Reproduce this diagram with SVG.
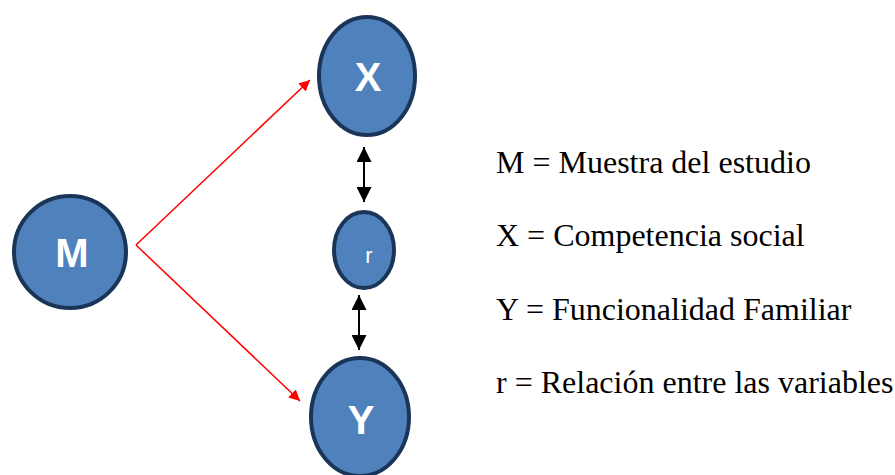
<svg xmlns="http://www.w3.org/2000/svg" width="895" height="475" viewBox="0 0 895 475">
<style>
.node{fill:#4F81BD;stroke:#1B3558;stroke-width:4}
.lbl{font-family:"Liberation Sans",Arial,sans-serif;font-weight:bold;fill:#fff;text-anchor:middle;font-size:40px}
.leg{font-family:"Liberation Serif","Times New Roman",serif;font-size:32px;fill:#000}
.red{stroke:#FF0000;stroke-width:1.5;fill:none}
.blk{stroke:#000;stroke-width:2;fill:none}
</style>
<defs>
<marker id="rh" viewBox="0 0 10 10" refX="10" refY="5" markerWidth="11" markerHeight="11" markerUnits="userSpaceOnUse" orient="auto">
<path d="M0,0L10,5L0,10z" fill="#FF0000"/>
</marker>
<marker id="bh" viewBox="0 0 10 10" refX="10" refY="5" markerWidth="15" markerHeight="15" markerUnits="userSpaceOnUse" orient="auto-start-reverse">
<path d="M0,0L10,5L0,10z" fill="#000"/>
</marker>
</defs>
<rect width="895" height="475" fill="#fff"/>
<g id="connectors">
<line class="red" x1="136" y1="245" x2="310" y2="80" marker-end="url(#rh)"/>
<line class="red" x1="136" y1="245" x2="300" y2="401" marker-end="url(#rh)"/>
<line class="blk" x1="364" y1="147" x2="364" y2="202" marker-start="url(#bh)" marker-end="url(#bh)"/>
<line class="blk" x1="359" y1="295" x2="359" y2="350" marker-start="url(#bh)" marker-end="url(#bh)"/>
</g>
<g id="node-M">
<circle class="node" cx="70" cy="252" r="56"/>
<text class="lbl" x="72" y="267">M</text>
</g>
<g id="node-X">
<ellipse class="node" cx="367" cy="76" rx="48" ry="59"/>
<text class="lbl" x="368" y="91">X</text>
</g>
<g id="node-r">
<ellipse class="node" cx="364" cy="250" rx="30" ry="38"/>
<text x="369" y="263" style="font-family:'Liberation Sans',Arial,sans-serif;font-size:22px;fill:#fff;text-anchor:middle">r</text>
</g>
<g id="node-Y">
<ellipse class="node" cx="360" cy="417" rx="49" ry="59"/>
<text class="lbl" x="361" y="434">Y</text>
</g>
<g id="legend">
<text class="leg" x="496" y="173">M = Muestra del estudio</text>
<text class="leg" x="496" y="246">X = Competencia social</text>
<text class="leg" x="496" y="320">Y = Funcionalidad Familiar</text>
<text class="leg" x="496" y="393">r = Relación entre las variables</text>
</g>
</svg>
